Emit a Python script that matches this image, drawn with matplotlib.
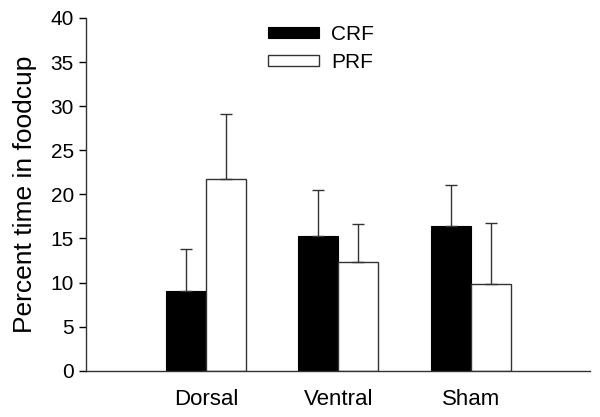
import matplotlib
matplotlib.use('Agg')
import matplotlib.pyplot as plt
import numpy as np

plt.rcParams['font.family'] = ['Liberation Sans', 'DejaVu Sans']

groups = ['Dorsal', 'Ventral', 'Sham']
crf = [9.0, 15.3, 16.4]
crf_err = [4.8, 5.15, 4.65]
prf = [21.75, 12.3, 9.8]
prf_err = [7.35, 4.3, 6.95]

fig = plt.figure(figsize=(6, 4.17), dpi=100)
ax = fig.add_axes([0.144, 0.111, 0.839, 0.846])

x = np.arange(1, len(groups) + 1)
w = 0.302
ekw = dict(elinewidth=1.0, ecolor='#333333', capthick=1.0)
ax.bar(x - w / 2, crf, w, color='black', edgecolor='black', linewidth=0.8,
       yerr=[np.zeros(3), crf_err], capsize=4, error_kw=ekw, label='CRF')
ax.bar(x + w / 2, prf, w, color='white', edgecolor='#333333', linewidth=1.0,
       yerr=[np.zeros(3), prf_err], capsize=4, error_kw=ekw, label='PRF')

ax.set_xlim(0.098, 3.9)
ax.set_ylim(0, 40)
ax.set_yticks(range(0, 41, 5))
ax.set_xticks(x)
ax.set_xticklabels(groups, fontsize=16)
ax.tick_params(axis='x', length=0, pad=13)
ax.tick_params(axis='y', labelsize=15, length=5, width=1, direction='out', pad=4)
ax.set_ylabel('Percent time in foodcup', fontsize=19, labelpad=10)

for s in ['top', 'right']:
    ax.spines[s].set_visible(False)
for s in ['left', 'bottom']:
    ax.spines[s].set_linewidth(1.0)
    ax.spines[s].set_color('#333333')

ax.legend(loc='upper left', bbox_to_anchor=(0.36, 0.979), frameon=False,
          fontsize=15, handlelength=2.45, handleheight=0.43,
          labelspacing=0.42, handletextpad=0.6, borderpad=0, borderaxespad=0)

fig.savefig('out.png', dpi=100)
